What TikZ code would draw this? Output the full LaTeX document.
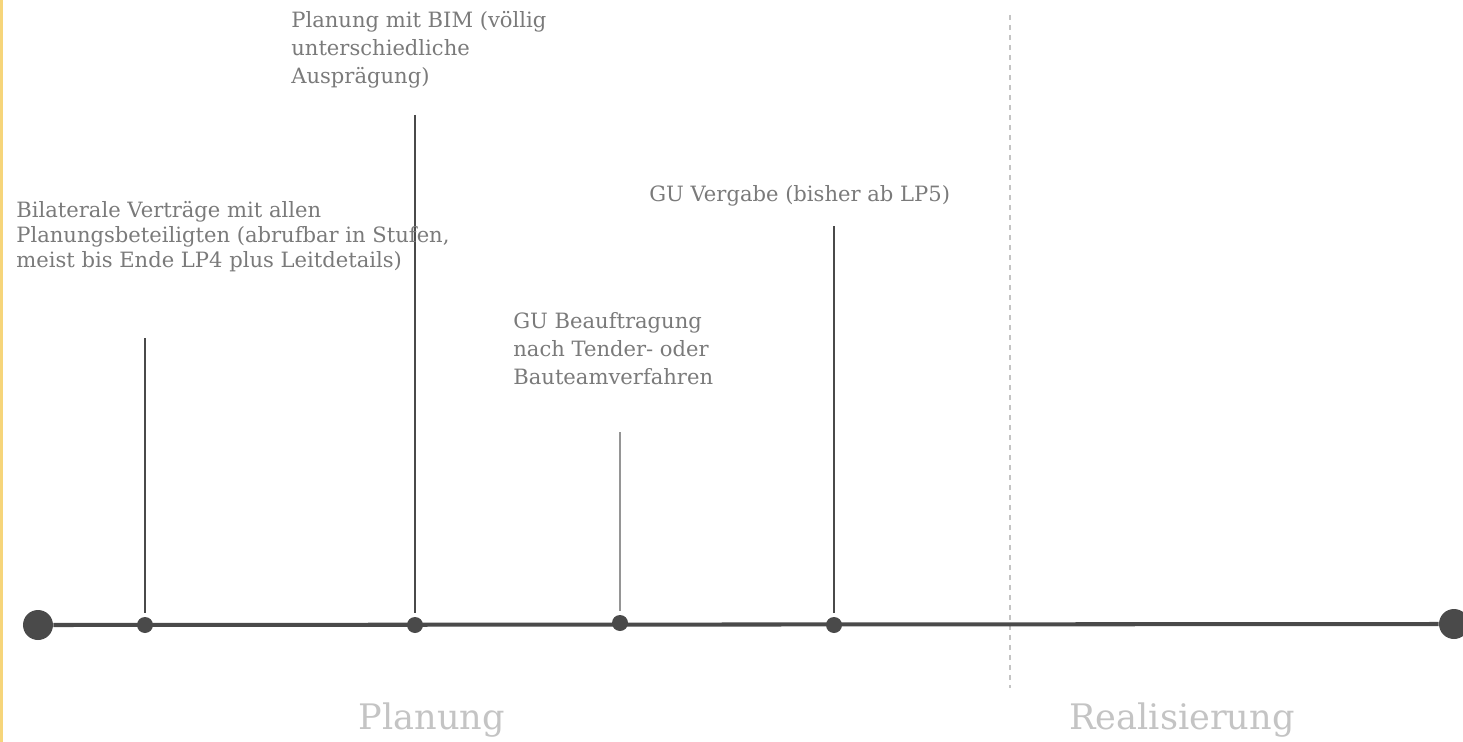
\documentclass[tikz,border=0pt]{standalone}
\usepackage{fontspec}
\setmainfont{DejaVu Serif}
\usepackage{tikz}
\usetikzlibrary{positioning,calc}
\definecolor{textgrey}{HTML}{7A7A7A}
\definecolor{phasegrey}{HTML}{C4C4C4}
\definecolor{linedark}{HTML}{4A4A4A}
\definecolor{edgegold}{HTML}{F6D57A}

\begin{document}
\begin{tikzpicture}[font=\fontsize{12}{15.9}\selectfont,
		stepnote/.style={text=textgrey,align=left,anchor=north west,inner sep=0pt},
		phase/.style={text=phasegrey,font=\fontsize{20}{24}\selectfont,inner sep=0pt},
		bigdot/.style={circle,fill=linedark,inner sep=0pt,minimum size=0.6cm},
		smalldot/.style={circle,fill=linedark,inner sep=0pt,minimum size=0.32cm},
		pin/.style={draw=linedark,line width=0.6pt,shorten >=0.24cm}]
			\useasboundingbox (0,0) rectangle (29.26,-14.84);
			\fill[edgegold] (0,0) rectangle (0.06,-14.84);
			\draw[phasegrey,line width=0.6pt,dash pattern=on 0.11cm off 0.09cm] (20.2,-0.3) -- (20.2,-13.76);
			\node[bigdot] (start) at (0.76,-12.5) {};
			\node[bigdot] (end) at (29.08,-12.48) {};
			\draw[linedark,line width=2.3pt] (start) -- (end);
			\node[smalldot] (vertraege) at (2.9,-12.5) {};
			\node[smalldot] (bim) at (8.3,-12.5) {};
			\node[smalldot] (auftrag) at (12.4,-12.46) {};
			\node[smalldot] (vergabe) at (16.68,-12.5) {};
			\coordinate (vertraegetop) at (2.9,-6.76);
			\coordinate (bimtop) at (8.3,-2.3);
			\coordinate (auftragtop) at (12.4,-8.64);
			\coordinate (vergabetop) at (16.68,-4.52);
			\draw[pin] (vertraegetop) -- (vertraege.center);
			\draw[pin] (bimtop) -- (bim.center);
			\draw[pin,draw=textgrey!80] (auftragtop) -- (auftrag.center);
			\draw[pin] (vergabetop) -- (vergabe.center);
			\node[stepnote,font=\fontsize{12}{14.2}\selectfont] (vertraegetext) at (0.32,-4.02) {Bilaterale Verträge mit allen\\Planungsbeteiligten (abrufbar in Stufen,\\meist bis Ende LP4 plus Leitdetails)};
			\node[stepnote] (bimtext) at (5.82,-0.22) {Planung mit BIM (völlig\\unterschiedliche\\Ausprägung)};
			\node[stepnote] (auftragtext) at (10.26,-6.24) {GU Beauftragung\\nach Tender- oder\\Bauteamverfahren};
			\node[stepnote] (vergabetext) at (12.98,-3.7) {GU Vergabe (bisher ab LP5)};
			\node[phase] (planung) at (8.64,-14.4) {Planung};
			\node[phase] (realisierung) at (23.64,-14.4) {Realisierung};
		\end{tikzpicture}
\end{document}
